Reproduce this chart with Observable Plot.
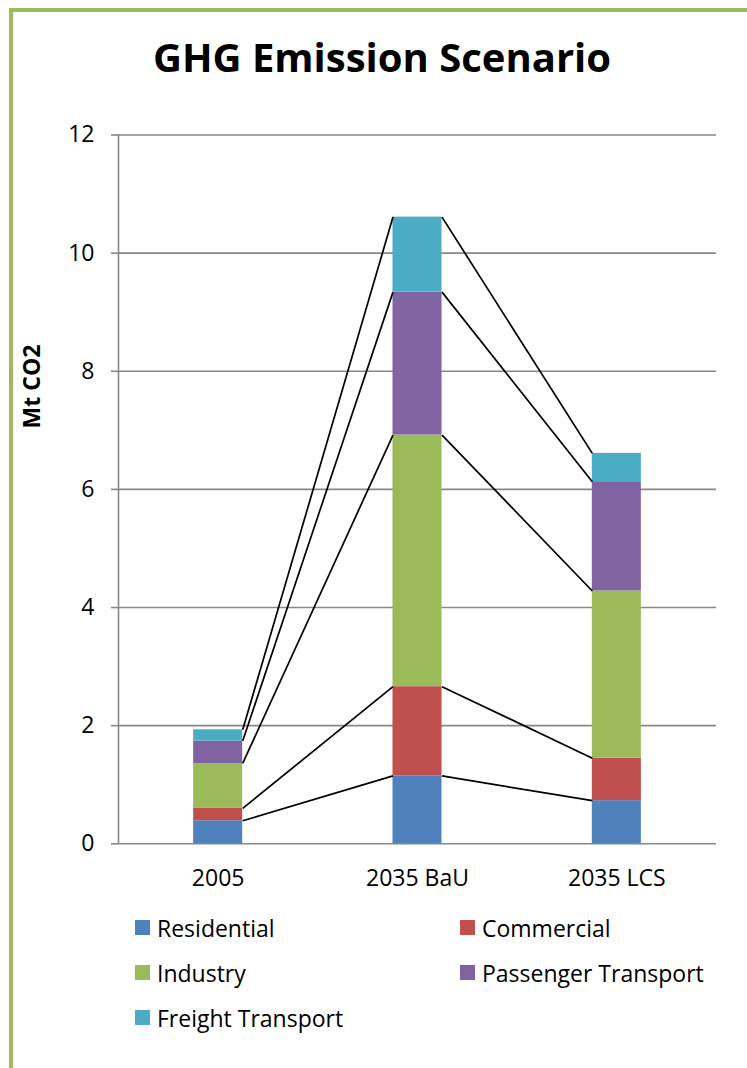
<!DOCTYPE html>
<html>
<head>
<meta charset="utf-8">
<script src="https://cdn.jsdelivr.net/npm/d3@7"></script>
<script src="https://cdn.jsdelivr.net/npm/@observablehq/plot@0.6"></script>
<style>
  html, body { margin: 0; padding: 0; background: #fff; }
  body { width: 747px; height: 1068px; overflow: hidden; position: relative; font-family: "Open Sans", sans-serif; color: #000; }
  #frame { position: absolute; left: 9px; top: 8px; width: 800px; height: 1057px;
           border-left: 4px solid #9bbb59; border-top: 4px solid #9bbb59; border-bottom: 1px solid #e3ebd5; pointer-events: none; }
  #title { height: 110px; position: relative; }
  #title h1 { margin: 0; position: absolute; top: 36.5px; left: 0; width: 764px; text-align: center;
              font-size: 40px; line-height: 40px; font-weight: 700; }
  #chart svg { display: block; }
  #legend { display: grid; grid-template-columns: 325px 260px; padding: 5px 0 0 135px; }
  .item { height: 45px; display: flex; align-items: center; font-size: 23px; }
  .swatch { width: 15px; height: 15px; margin-right: 7px; flex: none; }
</style>
</head>
<body>
<div id="frame"></div>
<div id="title"><h1>GHG Emission Scenario</h1></div>
<div id="chart"></div>
<div id="legend"></div>
<script>
// Scenarios and emission sectors (Mt CO2)
const categories = ["2005", "2035 BaU", "2035 LCS"];
const sectors = ["Residential", "Commercial", "Industry", "Passenger Transport", "Freight Transport"];
const residential = [0.39, 1.15, 0.73];
const commercial = [0.21, 1.51, 0.72];
const industry = [0.76, 4.26, 2.83];
const passenger = [0.38, 2.42, 1.85];
const freight = [0.19, 1.27, 0.48];
const sectorColors = ["#4f81bd", "#c0504d", "#9bbb59", "#8064a2", "#4bacc6"];
const yTicks = [0, 2, 4, 6, 8, 10, 12];

const series = [residential, commercial, industry, passenger, freight];
const gridColor = "#888888";
const barHalf = 0.123; // half bar width, in category units

// Stacked segments: one rect per scenario and sector
const segments = [];
const tops = categories.map(() => []); // cumulative top of each sector per scenario
categories.forEach((cat, i) => {
  let base = 0;
  series.forEach((vals, k) => {
    const top = base + vals[i];
    segments.push({idx: i, sector: sectors[k], y1: base, y2: top});
    tops[i].push(top);
    base = top;
  });
});

// Series lines joining the sector tops of neighbouring bars
const connectors = [];
for (let i = 0; i < categories.length - 1; i++) {
  sectors.forEach((s, k) => {
    connectors.push({from: i, to: i + 1, ya: tops[i][k], yb: tops[i + 1][k]});
  });
}

const chart = Plot.plot({
  width: 747,
  height: 790,
  marginLeft: 118,
  marginRight: 31,
  marginTop: 24.5,
  marginBottom: 56.7,
  style: {fontFamily: "Open Sans, sans-serif", color: "#000", background: "#fff"},
  x: {type: "linear", domain: [-0.5, categories.length - 0.5], axis: null},
  y: {domain: [0, 12], axis: null},
  color: {domain: sectors, range: sectorColors},
  marks: [
    Plot.ruleY(yTicks, {stroke: gridColor, strokeWidth: 1.6}),
    Plot.ruleX([-0.5], {y1: 0, y2: 12, stroke: gridColor, strokeWidth: 1.6}),
    Plot.axisY({ticks: yTicks, tickSize: 7, tickPadding: 17, fontSize: 23, stroke: gridColor, strokeWidth: 1.6, label: null}),
    Plot.axisX({ticks: categories.map((c, i) => i), tickFormat: i => categories[i], tickSize: 0, tickPadding: 26, fontSize: 23, label: null}),
    Plot.rectY(segments, {x1: d => d.idx - barHalf, x2: d => d.idx + barHalf, y1: "y1", y2: "y2", fill: "sector"}),
    Plot.link(connectors, {x1: d => d.from + barHalf, x2: d => d.to - barHalf, y1: "ya", y2: "yb", stroke: "#000", strokeWidth: 1.7}),
    Plot.text(["Mt CO2"], {frameAnchor: "left", rotate: -90, dx: -85.5, dy: -61, fontWeight: "bold", fontSize: 23, fill: "#000"})
  ]
});
document.getElementById("chart").append(chart);

// Legend: two columns of swatches
const legend = document.getElementById("legend");
sectors.forEach((s, k) => {
  const item = document.createElement("div");
  item.className = "item";
  const sw = document.createElement("span");
  sw.className = "swatch";
  sw.style.background = sectorColors[k];
  item.append(sw, document.createTextNode(s));
  legend.append(item);
});
</script>
</body>
</html>
